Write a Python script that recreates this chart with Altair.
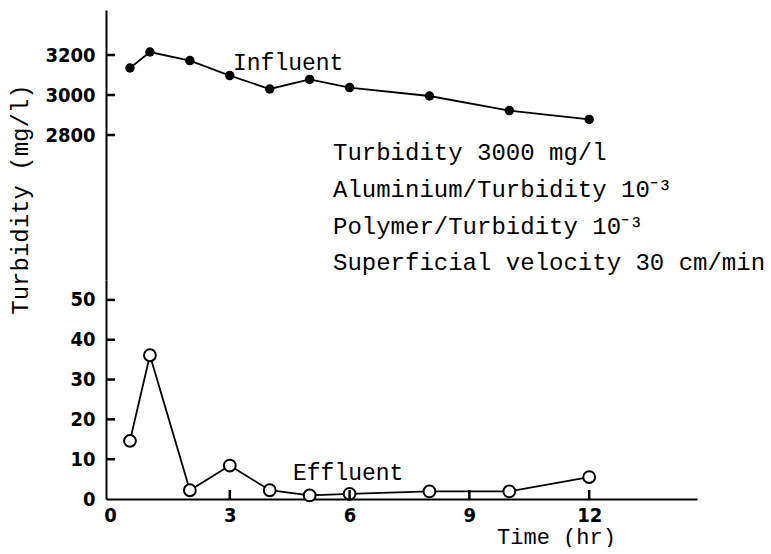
import altair as alt
import pandas as pd

# ---- data ----
time_hr = [0.5, 1, 2, 3, 4, 5, 6, 8, 10, 12]
influent_mg_l = [3135, 3215, 3172, 3097, 3030, 3078, 3037, 2995, 2922, 2878]
effluent_mg_l = [14.6, 36.1, 2.2, 8.4, 2.2, 0.9, 1.3, 1.9, 1.9, 5.5]

x_ticks = [0, 3, 6, 9, 12]
upper_ticks = [2800, 3000, 3200]
lower_ticks = [0, 10, 20, 30, 40, 50]

series_labels = ["Influent", "Effluent"]
conditions = [
    "Turbidity 3000 mg/l",
    "Aluminium/Turbidity 10⁻³",
    "Polymer/Turbidity 10⁻³",
    "Superficial velocity 30 cm/min",
]

df = pd.DataFrame({"time": time_hr, "influent": influent_mg_l, "effluent": effluent_mg_l})

MONO = "Liberation Mono"
SANS = "DejaVu Sans Condensed"
W = 591
H_UP = 270
H_LOW = 219
TICK = 9

x_scale = alt.Scale(domain=[-0.1, 14.7], nice=False, zero=False)
up_y_scale = alt.Scale(domain=[2075, 3425], nice=False, zero=False)
low_y_scale = alt.Scale(domain=[0, 55], nice=False)

# ---- upper panel (influent) ----
up_base = alt.Chart(df).encode(
    x=alt.X("time:Q", scale=x_scale, axis=None),
    y=alt.Y(
        "influent:Q",
        scale=up_y_scale,
        axis=alt.Axis(
            values=upper_ticks,
            format="d",
            title="Turbidity (mg/l)",
            titleFont=MONO,
            titleFontSize=24,
            titleFontWeight="normal",
            titleColor="black",
            titleX=-86,
            titleY=189,
            titleAngle=-90,
            titleAlign="center",
            titleBaseline="middle",
        ),
    ),
)
up_line = up_base.mark_line(color="black", strokeWidth=1.8)
up_pts = up_base.mark_point(filled=True, color="black", size=90, opacity=1)

# inward-pointing y ticks
up_ticks = (
    alt.Chart(pd.DataFrame({"tv": upper_ticks}))
    .mark_rule(color="black", strokeWidth=2.5)
    .encode(y=alt.Y("tv:Q"), x=alt.value(0), x2=alt.value(TICK))
)

up_label = alt.Chart(pd.DataFrame({"t": [series_labels[0]]})).mark_text(
    font=MONO, fontSize=23, align="left", baseline="middle", color="black"
).encode(text="t:N", x=alt.value(127), y=alt.value(53))

cond_layers = []
cond_y = [143, 180, 217, 253]
for line, yy in zip(conditions, cond_y):
    cond_layers.append(
        alt.Chart(pd.DataFrame({"t": [line]})).mark_text(
            font=MONO, fontSize=24, align="left", baseline="middle", color="black"
        ).encode(text="t:N", x=alt.value(227), y=alt.value(yy))
    )

upper = alt.layer(up_line, up_pts, up_ticks, up_label, *cond_layers).properties(
    width=W, height=H_UP
)

# ---- lower panel (effluent) ----
low_base = alt.Chart(df).encode(
    x=alt.X(
        "time:Q",
        scale=x_scale,
        axis=alt.Axis(
            values=x_ticks,
            title="Time (hr)",
            titleFont=MONO,
            titleFontSize=22,
            titleFontWeight="normal",
            titleColor="black",
            titleX=450,
            titleY=37,
            titleAlign="center",
            titleBaseline="middle",
            labelPadding=6,
        ),
    ),
    y=alt.Y(
        "effluent:Q",
        scale=low_y_scale,
        axis=alt.Axis(values=lower_ticks, title=None),
    ),
)
low_line = low_base.mark_line(color="black", strokeWidth=1.8)
low_pts = low_base.mark_point(
    filled=True, fill="white", stroke="black", strokeWidth=2, size=140, opacity=1
)

# inward-pointing y ticks and x ticks
low_yticks = (
    alt.Chart(pd.DataFrame({"tv": lower_ticks[1:]}))
    .mark_rule(color="black", strokeWidth=2.5)
    .encode(y=alt.Y("tv:Q"), x=alt.value(0), x2=alt.value(TICK))
)
low_xticks = (
    alt.Chart(pd.DataFrame({"tx": x_ticks[1:]}))
    .mark_rule(color="black", strokeWidth=2.5)
    .encode(x=alt.X("tx:Q"), y=alt.value(H_LOW), y2=alt.value(H_LOW - TICK))
)

low_label = alt.Chart(pd.DataFrame({"t": [series_labels[1]]})).mark_text(
    font=MONO, fontSize=23, align="left", baseline="middle", color="black"
).encode(text="t:N", x=alt.value(187), y=alt.value(193))

lower = alt.layer(low_line, low_pts, low_yticks, low_xticks, low_label).properties(
    width=W, height=H_LOW
)

chart = (
    alt.vconcat(upper, lower, spacing=0, bounds="flush")
    .properties(padding={"left": 8, "top": 10, "right": 0, "bottom": 0}, background="white")
    .configure_view(strokeWidth=0)
    .configure_axis(
        grid=False,
        domainColor="black",
        domainWidth=2,
        ticks=False,
        labelFont=SANS,
        labelFontSize=20,
        labelFontWeight="bold",
        labelColor="black",
        labelPadding=11,
    )
)

chart.save("out.html", embed_options={"renderer": "svg", "actions": False})
